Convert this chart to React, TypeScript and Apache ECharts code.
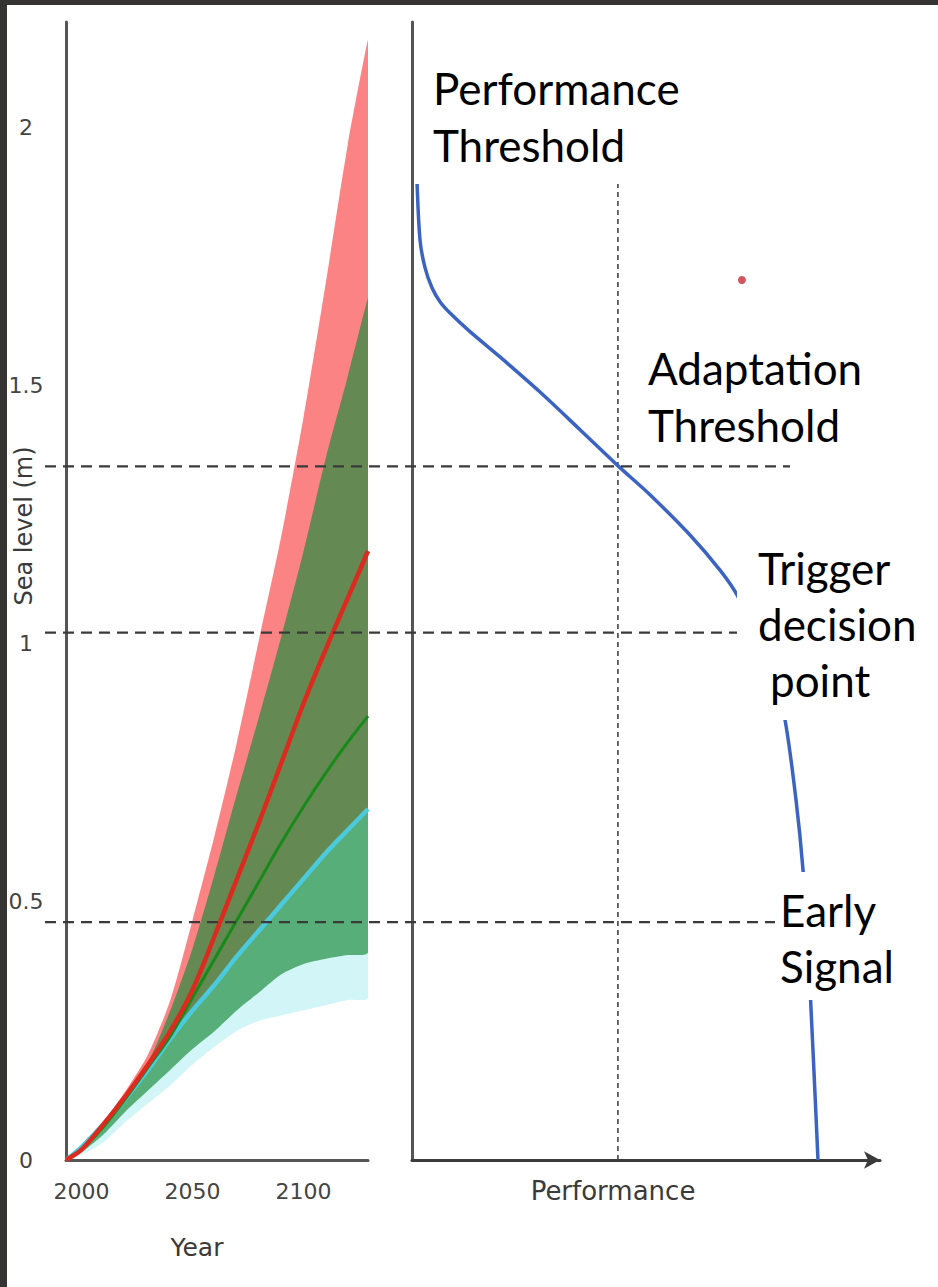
import { useEffect, useRef } from "react";
import * as echarts from "echarts";

// ---------- data ----------
const years = [1993, 2000, 2010, 2020, 2030, 2040, 2050, 2060, 2070, 2080, 2090, 2100, 2110, 2120, 2129];

const redMedian = [0, 0.02, 0.07, 0.125, 0.185, 0.25, 0.33, 0.435, 0.545, 0.655, 0.77, 0.885, 0.99, 1.09, 1.18];
const redUpper = [0, 0.025, 0.075, 0.135, 0.205, 0.31, 0.465, 0.63, 0.81, 1.01, 1.21, 1.44, 1.7, 1.97, 2.17];
const redLower = [0, 0.02, 0.065, 0.115, 0.17, 0.23, 0.285, 0.335, 0.39, 0.44, 0.49, 0.54, 0.59, 0.635, 0.675];

const greenMedian = [0, 0.02, 0.065, 0.12, 0.18, 0.24, 0.315, 0.39, 0.465, 0.54, 0.615, 0.685, 0.75, 0.81, 0.86];
const greenUpper = [0, 0.025, 0.07, 0.13, 0.19, 0.29, 0.41, 0.555, 0.71, 0.86, 1.015, 1.18, 1.36, 1.52, 1.67];
const greenLower = [0, 0.015, 0.05, 0.095, 0.135, 0.175, 0.215, 0.25, 0.29, 0.325, 0.36, 0.38, 0.39, 0.397, 0.403];

const cyanMedian = [0, 0.025, 0.07, 0.12, 0.175, 0.235, 0.29, 0.34, 0.395, 0.445, 0.495, 0.545, 0.595, 0.64, 0.68];
const cyanUpper = [0, 0.025, 0.07, 0.12, 0.175, 0.235, 0.29, 0.34, 0.395, 0.445, 0.495, 0.545, 0.595, 0.64, 0.68];
const cyanLower = [0, 0.01, 0.035, 0.075, 0.11, 0.145, 0.185, 0.22, 0.25, 0.27, 0.28, 0.29, 0.3, 0.31, 0.315];

const yearLabels = [2000, 2050, 2100];
const seaLevelMax = 2.205;

// performance curve (performance, sea level)
const performance = [0.96, 1.07, 1.71, 2.78, 4.27, 5.98, 8.12, 12.39, 18.8, 27.35, 35.9, 44.02, 50.85, 59.4, 65.81, 69.44, 74.36, 77.56, 79.7, 82.05, 83.55, 84.62, 85.68, 86.75];
const performanceSeaLevel = [1.95, 1.895, 1.783, 1.729, 1.69, 1.663, 1.641, 1.605, 1.556, 1.488, 1.415, 1.345, 1.289, 1.211, 1.143, 1.095, 0.998, 0.921, 0.853, 0.698, 0.562, 0.407, 0.213, 0];

const performanceThreshold = 44.0;
const performanceThresholdTop = 1.95;
const redDotPerformance = 70.5;
const redDotSeaLevel = 1.705;

// horizontal dashed thresholds (sea level, m)
const adaptationThreshold = 1.344;
const triggerPoint = 1.022;
const earlySignal = 0.461;

const zip = (xs: number[], ys: number[]) => xs.map((x, i) => [x, ys[i]]);

const AXIS_COLOR = "#555";
const TICK_FONT = "DejaVu Sans";
const NOTE_FONT = "44px Lato";

function band(name: string, lower: number[], upper: number[], color: string, z: number) {
  return {
    name,
    type: "custom",
    xAxisIndex: 0,
    yAxisIndex: 0,
    z,
    silent: true,
    data: [[years[0], 0]],
    renderItem: (_params: any, api: any) => {
      const top = years.map((y, i) => api.coord([y, upper[i]]));
      const bottom = years.map((y, i) => api.coord([y, lower[i]])).reverse();
      const pts = top.concat(bottom);
      const xs = pts.map((p: number[]) => p[0]);
      const ys = pts.map((p: number[]) => p[1]);
      const constraint = [
        [Math.min(...xs), Math.min(...ys)],
        [Math.max(...xs), Math.max(...ys)],
      ];
      return {
        type: "polygon",
        shape: { points: pts, smooth: 0.25, smoothConstraint: constraint },
        style: { fill: color },
        silent: true,
      };
    },
  };
}

function medianLine(name: string, values: number[], color: string, width: number, z: number) {
  return {
    name,
    type: "line",
    xAxisIndex: 0,
    yAxisIndex: 0,
    data: zip(years, values),
    symbol: "none",
    smooth: 0.3,
    lineStyle: { color, width },
    z,
  };
}

function thresholdLine(level: number, fromX: number, toX: number) {
  return {
    type: "line",
    xAxisIndex: 2,
    yAxisIndex: 2,
    data: [
      [fromX, level],
      [toX, level],
    ],
    symbol: "none",
    lineStyle: { color: "#3a3a3a", width: 2.2, type: [11, 7] },
    silent: true,
    z: 6,
  };
}

function note(text: string, x: number, y: number) {
  return {
    type: "text",
    x,
    y,
    z: 101,
    style: {
      text,
      font: NOTE_FONT,
      fill: "#000",
      align: "left",
      verticalAlign: "middle",
      textAlign: "left",
      textVerticalAlign: "middle",
    },
  };
}

function whiteBox(x: number, y: number, width: number, height: number) {
  return {
    type: "rect",
    z: 100,
    shape: { x, y, width, height },
    style: { fill: "#fff" },
  };
}

export default function App() {
  const ref = useRef<HTMLDivElement>(null);

  useEffect(() => {
    const chart = echarts.init(ref.current!, null, { renderer: "svg" });

    const option: any = {
      animation: false,
      backgroundColor: "#fff",
      grid: [
        { left: 66, top: 22, width: 302, height: 1138, containLabel: false, outerBoundsMode: "none" },
        { left: 412, top: 22, width: 468, height: 1138, containLabel: false, outerBoundsMode: "none" },
        { left: 0, top: 22, width: 938, height: 1138, containLabel: false, outerBoundsMode: "none" },
      ],
      xAxis: [
        {
          gridIndex: 0,
          type: "value",
          min: 1993,
          max: 2129,
          axisLine: { show: true, lineStyle: { color: AXIS_COLOR, width: 3 } },
          axisTick: { show: false },
          splitLine: { show: false },
          axisLabel: {
            customValues: yearLabels,
            color: "#444",
            fontSize: 22,
            fontFamily: TICK_FONT,
            margin: 20,
            formatter: (v: number) => String(v),
          },
          name: "Year",
          nameLocation: "middle",
          nameGap: 75,
          nameMoveOverlap: false,
          nameTextStyle: { color: "#3a3a3a", fontSize: 25, fontFamily: TICK_FONT, padding: [0, 40, 0, 0] },
        },
        {
          gridIndex: 1,
          type: "value",
          min: 0,
          max: 100,
          axisLine: {
            show: true,
            symbol: ["none", "arrow"],
            symbolSize: [13, 16],
            lineStyle: { color: "#3a3a3a", width: 3 },
          },
          axisTick: { show: false },
          axisLabel: { show: false },
          splitLine: { show: false },
          name: "Performance",
          nameLocation: "middle",
          nameGap: 18,
          nameMoveOverlap: false,
          nameTextStyle: { color: "#3a3a3a", fontSize: 26, fontFamily: TICK_FONT, padding: [0, 66, 0, 0] },
        },
        {
          gridIndex: 2,
          type: "value",
          min: 0,
          max: 938,
          show: false,
        },
      ],
      yAxis: [
        {
          gridIndex: 0,
          type: "value",
          min: 0,
          max: seaLevelMax,
          interval: 0.5,
          axisLine: { show: true, lineStyle: { color: AXIS_COLOR, width: 3 } },
          axisTick: { show: false },
          splitLine: { show: false },
          axisLabel: {
            color: "#444",
            fontSize: 22,
            fontFamily: TICK_FONT,
            margin: 40,
            align: "center",
            showMaxLabel: false,
            formatter: (v: number) => (v > 2.01 ? "" : String(v)),
          },
          name: "Sea level (m)",
          nameLocation: "middle",
          nameRotate: 90,
          nameGap: 30,
          nameMoveOverlap: false,
          nameTextStyle: { color: "#3a3a3a", fontSize: 24, fontFamily: TICK_FONT, padding: [0, 0, 0, 130] },
        },
        {
          gridIndex: 1,
          type: "value",
          min: 0,
          max: seaLevelMax,
          axisLine: { show: true, lineStyle: { color: AXIS_COLOR, width: 3 } },
          axisTick: { show: false },
          axisLabel: { show: false },
          splitLine: { show: false },
        },
        {
          gridIndex: 2,
          type: "value",
          min: 0,
          max: seaLevelMax,
          show: false,
        },
      ],
      series: [
        band("Red range", redLower, redUpper, "#fc8383", 2),
        band("Cyan range", cyanLower, cyanUpper, "#d2f6f8", 2),
        band("Green range", greenLower, greenUpper, "rgba(30,140,60,0.68)", 2),
        medianLine("Cyan median", cyanMedian, "#4ccadd", 4.5, 3),
        medianLine("Green median", greenMedian, "#178a1a", 3, 3),
        medianLine("Red median", redMedian, "#dc2a1e", 4.5, 3),
        thresholdLine(adaptationThreshold, 45, 790),
        thresholdLine(triggerPoint, 45, 740),
        thresholdLine(earlySignal, 45, 775),
        {
          name: "Performance threshold",
          type: "line",
          xAxisIndex: 1,
          yAxisIndex: 1,
          data: [
            [performanceThreshold, 0],
            [performanceThreshold, performanceThresholdTop],
          ],
          symbol: "none",
          lineStyle: { color: "#444", width: 1.6, type: [5, 4] },
          z: 4,
        },
        {
          name: "Performance",
          type: "line",
          xAxisIndex: 1,
          yAxisIndex: 1,
          data: zip(performance, performanceSeaLevel),
          symbol: "none",
          smooth: 0.3,
          lineStyle: { color: "#3b63c2", width: 3.5 },
          z: 5,
        },
        {
          name: "Point",
          type: "scatter",
          xAxisIndex: 1,
          yAxisIndex: 1,
          data: [[redDotPerformance, redDotSeaLevel]],
          symbolSize: 8,
          itemStyle: { color: "#c9283a" },
          z: 5,
        },
      ],
      graphic: [
        whiteBox(414, 48, 276, 136),
        whiteBox(640, 335, 235, 120),
        whiteBox(737, 540, 160, 180),
        whiteBox(775, 872, 125, 128),
        note("Performance", 433, 88),
        note("Threshold", 433, 145),
        note("Adaptation", 648, 368),
        note("Threshold", 648, 425),
        note("Trigger", 758, 568),
        note("decision", 758, 624),
        note("point", 770, 680),
        note("Early", 780, 910),
        note("Signal", 780, 966),
        { type: "rect", z: 110, shape: { x: 0, y: 0, width: 938, height: 5 }, style: { fill: "#353433" } },
        { type: "rect", z: 110, shape: { x: 0, y: 0, width: 7, height: 1287 }, style: { fill: "#353433" } },
      ],
    };

    chart.setOption(option);
    return () => chart.dispose();
  }, []);

  return (
    <div
      ref={ref}
      style={{ position: "absolute", left: 0, top: 0, width: 938, height: 1287, background: "#fff" }}
    />
  );
}
